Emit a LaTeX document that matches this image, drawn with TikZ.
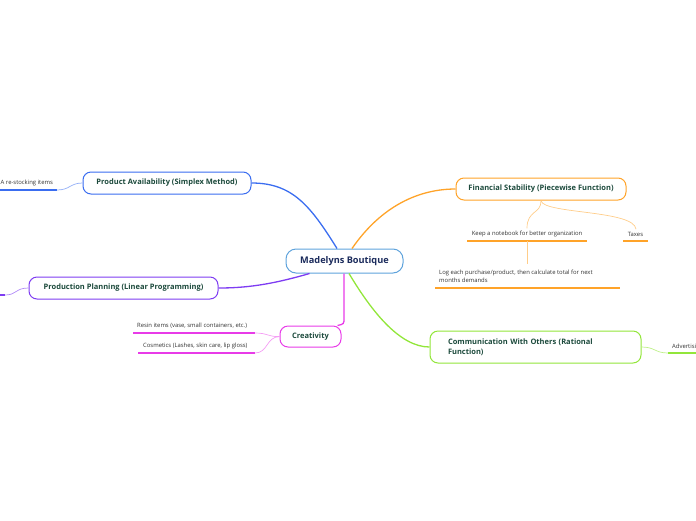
\documentclass[tikz,border=0pt]{standalone}
\usepackage{fontspec}
\setmainfont{Open Sans}
\usetikzlibrary{calc}
\definecolor{cblue}{HTML}{3A6DF0}
\definecolor{cpurple}{HTML}{7E3CF2}
\definecolor{cmag}{HTML}{E83BE8}
\definecolor{corange}{HTML}{FFA329}
\definecolor{cgreen}{HTML}{92E63A}
\definecolor{ccenter}{HTML}{5FA3DC}
\definecolor{ttopic}{HTML}{1C4A3C}
\definecolor{tcenter}{HTML}{1B2B5C}
\definecolor{tsmall}{HTML}{333333}
\tikzset{
  topic/.style={draw, line width=1pt, rounded corners=8pt, fill=white, text=ttopic,
    font=\fontsize{7.5}{10.5}\selectfont\bfseries, inner sep=0pt, align=center},
  centre/.style={draw=ccenter, line width=1pt, rounded corners=10pt, fill=white, text=tcenter,
    font=\fontsize{9.2}{11}\selectfont\bfseries, minimum width=117pt, minimum height=24pt, inner sep=0pt},
  small/.style={text=tsmall, font=\fontsize{5.9}{8}\selectfont, inner sep=0pt},
  mainlink/.style={line width=1.3pt},
  sublink/.style={line width=0.7pt},
  under/.style={line width=2pt}
}
\begin{document}
\begin{tikzpicture}[x=1pt,y=-1pt]
\useasboundingbox (0,0) rectangle (696,520);
\clip (0,0) rectangle (696,520);

% central node
\node[centre] (c) at (344.5,261) {Madelyns Boutique};

% main topics
\node[topic, draw=cblue, minimum width=168pt, minimum height=22pt] (pa) at (167,183) {Product Availability (Simplex Method)};
\node[topic, draw=cpurple, minimum width=189pt, minimum height=22pt] (pp) at (123.5,288) {Production Planning (Linear Programming)};
\node[topic, draw=cmag, minimum width=61pt, minimum height=21pt] (cr) at (310.5,336.5) {Creativity};
\node[topic, draw=corange, minimum width=170pt, minimum height=22pt] (fs) at (541,189) {Financial Stability (Piecewise Function)};
\node[topic, draw=cgreen, minimum width=211pt, minimum height=32pt, align=left, text width=175pt] (co) at (535.5,347) {Communication With Others (Rational\\Function)};

% connectors from centre
\draw[mainlink, cblue] ($(c.north)+(-7.5,0)$) .. controls (310,205) and (292,183) .. (pa.east);
\draw[mainlink, cpurple] ($(c.south west)+(24,0)$) .. controls (270,285) and (245,288) .. (pp.east);
\draw[mainlink, cmag] ($(c.south)+(-0.5,0)$) -- (344,318) .. controls (344,324) .. ($(cr.north east)+(-4,0)$);
\draw[mainlink, corange] ($(c.north)+(7.5,0)$) .. controls (382,205) and (420,189) .. (fs.west);
\draw[mainlink, cgreen] ($(c.south)+(4.5,0)$) .. controls (372,312) and (400,347) .. (co.west);

% Product availability child
\node[small, anchor=west] (rs) at (0.5,183) {A re-stocking items};
\coordinate (rsR) at (57,190);
\coordinate (rsL) at (0,190);
\draw[under, cblue] (rsL) -- (rsR);
\draw[sublink, cblue!55] (rsR) .. controls (70,190) and (70,183) .. (pa.west);

% Production planning child
\coordinate (ppR) at (5,295);
\coordinate (ppL) at (0,295);
\draw[under, cpurple] (ppL) -- (ppR);
\draw[sublink, cpurple!60] (pp.west) .. controls (15,288) and (17,295) .. (ppR);

% Creativity children
\node[small, anchor=west] (resin) at (137,326) {Resin items (vase, small containers, etc.)};
\coordinate (resinL) at (133,333);
\coordinate (resinR) at (255,333);
\draw[under, cmag] (resinL) -- (resinR);
\draw[sublink, cmag!50] (resinR) .. controls (268,333) and (268,337) .. (cr.west);
\node[small, anchor=west] (cos) at (143,346) {Cosmetics (Lashes, skin care, lip gloss)};
\coordinate (cosL) at (138,353);
\coordinate (cosR) at (255,353);
\draw[under, cmag] (cosL) -- (cosR);
\draw[sublink, cmag!50] (cosR) .. controls (268,353) and (266,337) .. (cr.west);

% Financial stability children
\node[small] (nb) at (527,234) {Keep a notebook for better organization};
\coordinate (nbL) at (467,241);
\coordinate (nbR) at (587,241);
\coordinate (nbM) at (527,241);
\draw[under, corange] (nbL) -- (nbR);
\node[small] (tx) at (635.5,234) {Taxes};
\coordinate (txL) at (623,241);
\coordinate (txR) at (648,241);
\draw[under, corange] (txL) -- (txR);
\coordinate (fsB) at ($(fs.south)+(0,0.5)$);
\draw[sublink, corange!55] (fsB) .. controls (541,214) and (527,210) .. ($(nb.north)+(0,-2.5)$);
\draw[sublink, corange!55] (fsB) .. controls (545,214) and (634,210) .. ($(tx.north)+(0.5,-2.5)$);

\node[small, anchor=north west, align=left] (log) at (439,269.5) {Log each purchase/product, then calculate total for next\\months demands};
\coordinate (logL) at (435,288);
\coordinate (logR) at (620,288);
\draw[under, corange] (logL) -- (logR);
\draw[sublink, corange!55] (nbM) -- (527,264);

% Communication child
\node[small, anchor=west] (adv) at (672,347) {Advertising};
\coordinate (advL) at (668,353);
\coordinate (advR) at (700,353);
\draw[under, cgreen] (advL) -- (advR);
\draw[sublink, cgreen!60] (co.east) .. controls (655,347) and (655,353) .. (advL);
\end{tikzpicture}
\end{document}
